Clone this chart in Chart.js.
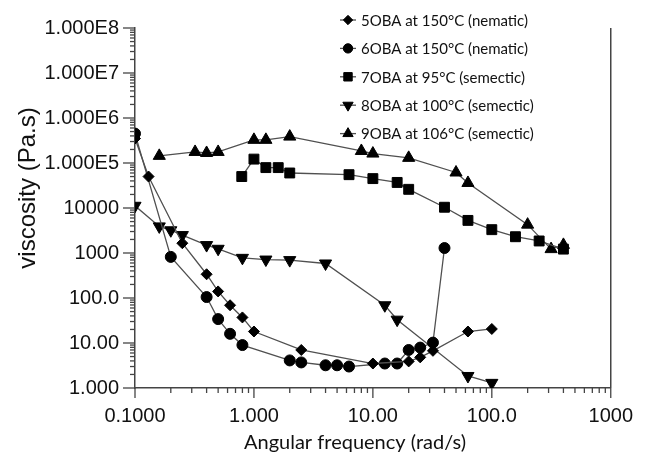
<!DOCTYPE html>
<html><head><meta charset="utf-8">
<script src="https://cdn.jsdelivr.net/npm/chart.js@4/dist/chart.umd.min.js"></script>
<style>html,body{margin:0;padding:0;background:#fff;}#wrap{width:649px;height:454px;position:relative;}</style>
</head><body><div id="wrap"><canvas id="c" width="649" height="454"></canvas></div>
<script>
// ---- data ----
const seriesLabels = [
  "5OBA at 150°C (nematic)",
  "6OBA at 150°C (nematic)",
  "7OBA at 95°C (semectic)",
  "8OBA at 100°C (semectic)",
  "9OBA at 106°C (semectic)"
];
const x5 = [0.1, 0.13, 0.25, 0.4, 0.5, 0.63, 0.8, 1.0, 2.5, 10, 20, 25, 32, 63, 100];
const y5 = [3.5e5, 5.0e4, 1650, 337, 140, 69, 37, 18, 7.0, 3.5, 3.9, 4.8, 6.7, 18, 20.5];
const x6 = [0.1, 0.2, 0.4, 0.5, 0.63, 0.8, 2.0, 2.5, 4.0, 5.0, 6.3, 12.6, 16, 20, 25, 32, 40];
const y6 = [4.5e5, 820, 105, 34, 16, 9.0, 4.1, 3.7, 3.2, 3.2, 3.0, 3.5, 3.5, 7.0, 7.9, 10.2, 1290];
const x7 = [0.79, 1.0, 1.26, 1.6, 2.0, 6.3, 10, 16, 20, 40, 63, 100, 158, 250, 400];
const y7 = [5.0e4, 1.22e5, 7.9e4, 7.9e4, 6.0e4, 5.5e4, 4.5e4, 3.7e4, 2.6e4, 1.04e4, 5300, 3300, 2300, 1850, 1220];
const x8 = [0.1, 0.16, 0.2, 0.25, 0.4, 0.5, 0.8, 1.26, 2.0, 4.0, 12.6, 16, 63, 100];
const y8 = [1.12e4, 3900, 3200, 2500, 1500, 1240, 780, 715, 695, 585, 69, 33, 1.85, 1.3];
const x9 = [0.16, 0.32, 0.4, 0.5, 1.0, 1.26, 2.0, 8.0, 10, 20, 50, 63, 200, 315, 400];
const y9 = [1.44e5, 1.76e5, 1.67e5, 1.76e5, 3.27e5, 3.27e5, 3.86e5, 1.85e5, 1.62e5, 1.3e5, 6.15e4, 3.6e4, 4270, 1220, 1515];

const xTickValues = [0.1, 1, 10, 100, 1000];
const xTickLabels = ["0.1000", "1.000", "10.00", "100.0", "1000"];
const yTickValues = [1, 10, 100, 1000, 1e4, 1e5, 1e6, 1e7, 1e8];
const yTickLabels = ["1.000", "10.00", "100.0", "1000", "10000", "1.000E5", "1.000E6", "1.000E7", "1.000E8"];
const minorMultipliers = [2, 3, 4, 5, 6, 7, 8, 9];
const xTitle = "Angular frequency (rad/s)";
const yTitle = "viscosity (Pa.s)";

// ---- styles ----
const markers = [
  {style: 'rectRot', radius: 5.5, rotation: 0},
  {style: 'circle', radius: 5.5, rotation: 0},
  {style: 'rect', radius: 7, rotation: 0},
  {style: 'triangle', radius: 7, rotation: 180},
  {style: 'triangle', radius: 7, rotation: 0}
];
const xs = [x5, x6, x7, x8, x9];
const ys = [y5, y6, y7, y8, y9];
const LINE = '#505050';

const datasets = xs.map((xv, i) => ({
  label: seriesLabels[i],
  data: xv.map((x, j) => ({x: x, y: ys[i][j]})),
  showLine: true,
  borderColor: LINE,
  borderWidth: 1.3,
  backgroundColor: '#000',
  pointBackgroundColor: '#000',
  pointBorderColor: '#000',
  pointBorderWidth: 1,
  pointStyle: markers[i].style,
  pointRadius: markers[i].radius,
  pointRotation: markers[i].rotation,
  pointHoverRadius: markers[i].radius
}));

const AX = '#444';
const framePlugin = {
  id: 'frame',
  afterDraw(chart) {
    const ctx = chart.ctx;
    const a = chart.chartArea;
    const sx = chart.scales.x, sy = chart.scales.y;
    ctx.save();
    ctx.strokeStyle = AX;
    ctx.lineWidth = 1.5;
    // right frame line
    ctx.beginPath();
    ctx.moveTo(a.right, a.top);
    ctx.lineTo(a.right, a.bottom);
    ctx.stroke();
    // x ticks
    ctx.lineWidth = 1.3;
    for (let d = -1; d <= 3; d++) {
      const base = Math.pow(10, d);
      const px = sx.getPixelForValue(base);
      ctx.beginPath(); ctx.moveTo(px, a.bottom); ctx.lineTo(px, a.bottom + 10); ctx.stroke();
      if (d < 3) {
        minorMultipliers.forEach(m => {
          const p = sx.getPixelForValue(base * m);
          ctx.beginPath(); ctx.moveTo(p, a.bottom); ctx.lineTo(p, a.bottom + 5); ctx.stroke();
        });
      }
    }
    for (let d = 0; d <= 8; d++) {
      const base = Math.pow(10, d);
      const py = sy.getPixelForValue(base);
      ctx.beginPath(); ctx.moveTo(a.left, py); ctx.lineTo(a.left - 12, py); ctx.stroke();
      if (d < 8) {
        minorMultipliers.forEach(m => {
          const p = sy.getPixelForValue(base * m);
          ctx.beginPath(); ctx.moveTo(a.left, p); ctx.lineTo(a.left - 5, p); ctx.stroke();
        });
      }
    }
    // axis titles
    ctx.fillStyle = '#111';
    ctx.font = '20px Lato';
    ctx.textAlign = 'center';
    ctx.textBaseline = 'alphabetic';
    ctx.fillText(xTitle, 355, 449);
    ctx.save();
    ctx.translate(35, 188);
    ctx.rotate(-Math.PI / 2);
    ctx.font = '24px "Liberation Sans"';
    ctx.fillText(yTitle, 0, 0);
    ctx.restore();
    // legend
    const rows = [20, 48.4, 76.8, 105.2, 133.6];
    ctx.font = '15px Lato';
    ctx.textAlign = 'left';
    ctx.textBaseline = 'middle';
    chart.data.datasets.forEach((ds, i) => {
      const y = rows[i];
      ctx.strokeStyle = LINE;
      ctx.lineWidth = 1.3;
      ctx.beginPath(); ctx.moveTo(340, y); ctx.lineTo(356, y); ctx.stroke();
      ctx.fillStyle = '#000';
      ctx.strokeStyle = '#000';
      ctx.lineWidth = 1;
      Chart.helpers.drawPoint(ctx, {pointStyle: markers[i].style, rotation: markers[i].rotation, radius: markers[i].radius * 0.85, borderWidth: 1}, 348, y);
      ctx.fillStyle = '#111';
      ctx.fillText(ds.label, 361, y + 1);
    });
    ctx.restore();
  }
};

new Chart(document.getElementById('c'), {
  type: 'scatter',
  data: {datasets: datasets},
  options: {
    responsive: false,
    animation: false,
    devicePixelRatio: 1,
    layout: {padding: {left: 0, right: 38, top: 20, bottom: 0}},
    plugins: {legend: {display: false}, tooltip: {enabled: false}},
    scales: {
      x: {
        type: 'logarithmic', min: 0.1, max: 1000,
        afterBuildTicks: s => { s.ticks = xTickValues.map(v => ({value: v})); },
        afterFit: s => { s.height = 66; },
        ticks: {
          autoSkip: false, maxRotation: 0, padding: 16, color: '#111',
          font: {family: '"Liberation Sans"', size: 20},
          callback: v => { const k = xTickValues.indexOf(v); return k >= 0 ? xTickLabels[k] : ''; }
        },
        grid: {display: true, drawOnChartArea: false, drawTicks: false},
        border: {display: true, color: AX, width: 1.5}
      },
      y: {
        type: 'logarithmic', min: 1, max: 1e8,
        afterBuildTicks: s => { s.ticks = yTickValues.map(v => ({value: v})); },
        afterFit: s => { s.width = 135; },
        ticks: {
          autoSkip: false, padding: 16, color: '#111',
          font: {family: '"Liberation Sans"', size: 20},
          callback: v => { const k = yTickValues.indexOf(v); return k >= 0 ? yTickLabels[k] : ''; }
        },
        grid: {display: true, drawOnChartArea: false, drawTicks: false},
        border: {display: true, color: AX, width: 1.5}
      }
    }
  },
  plugins: [framePlugin]
});
</script>
</body></html>
